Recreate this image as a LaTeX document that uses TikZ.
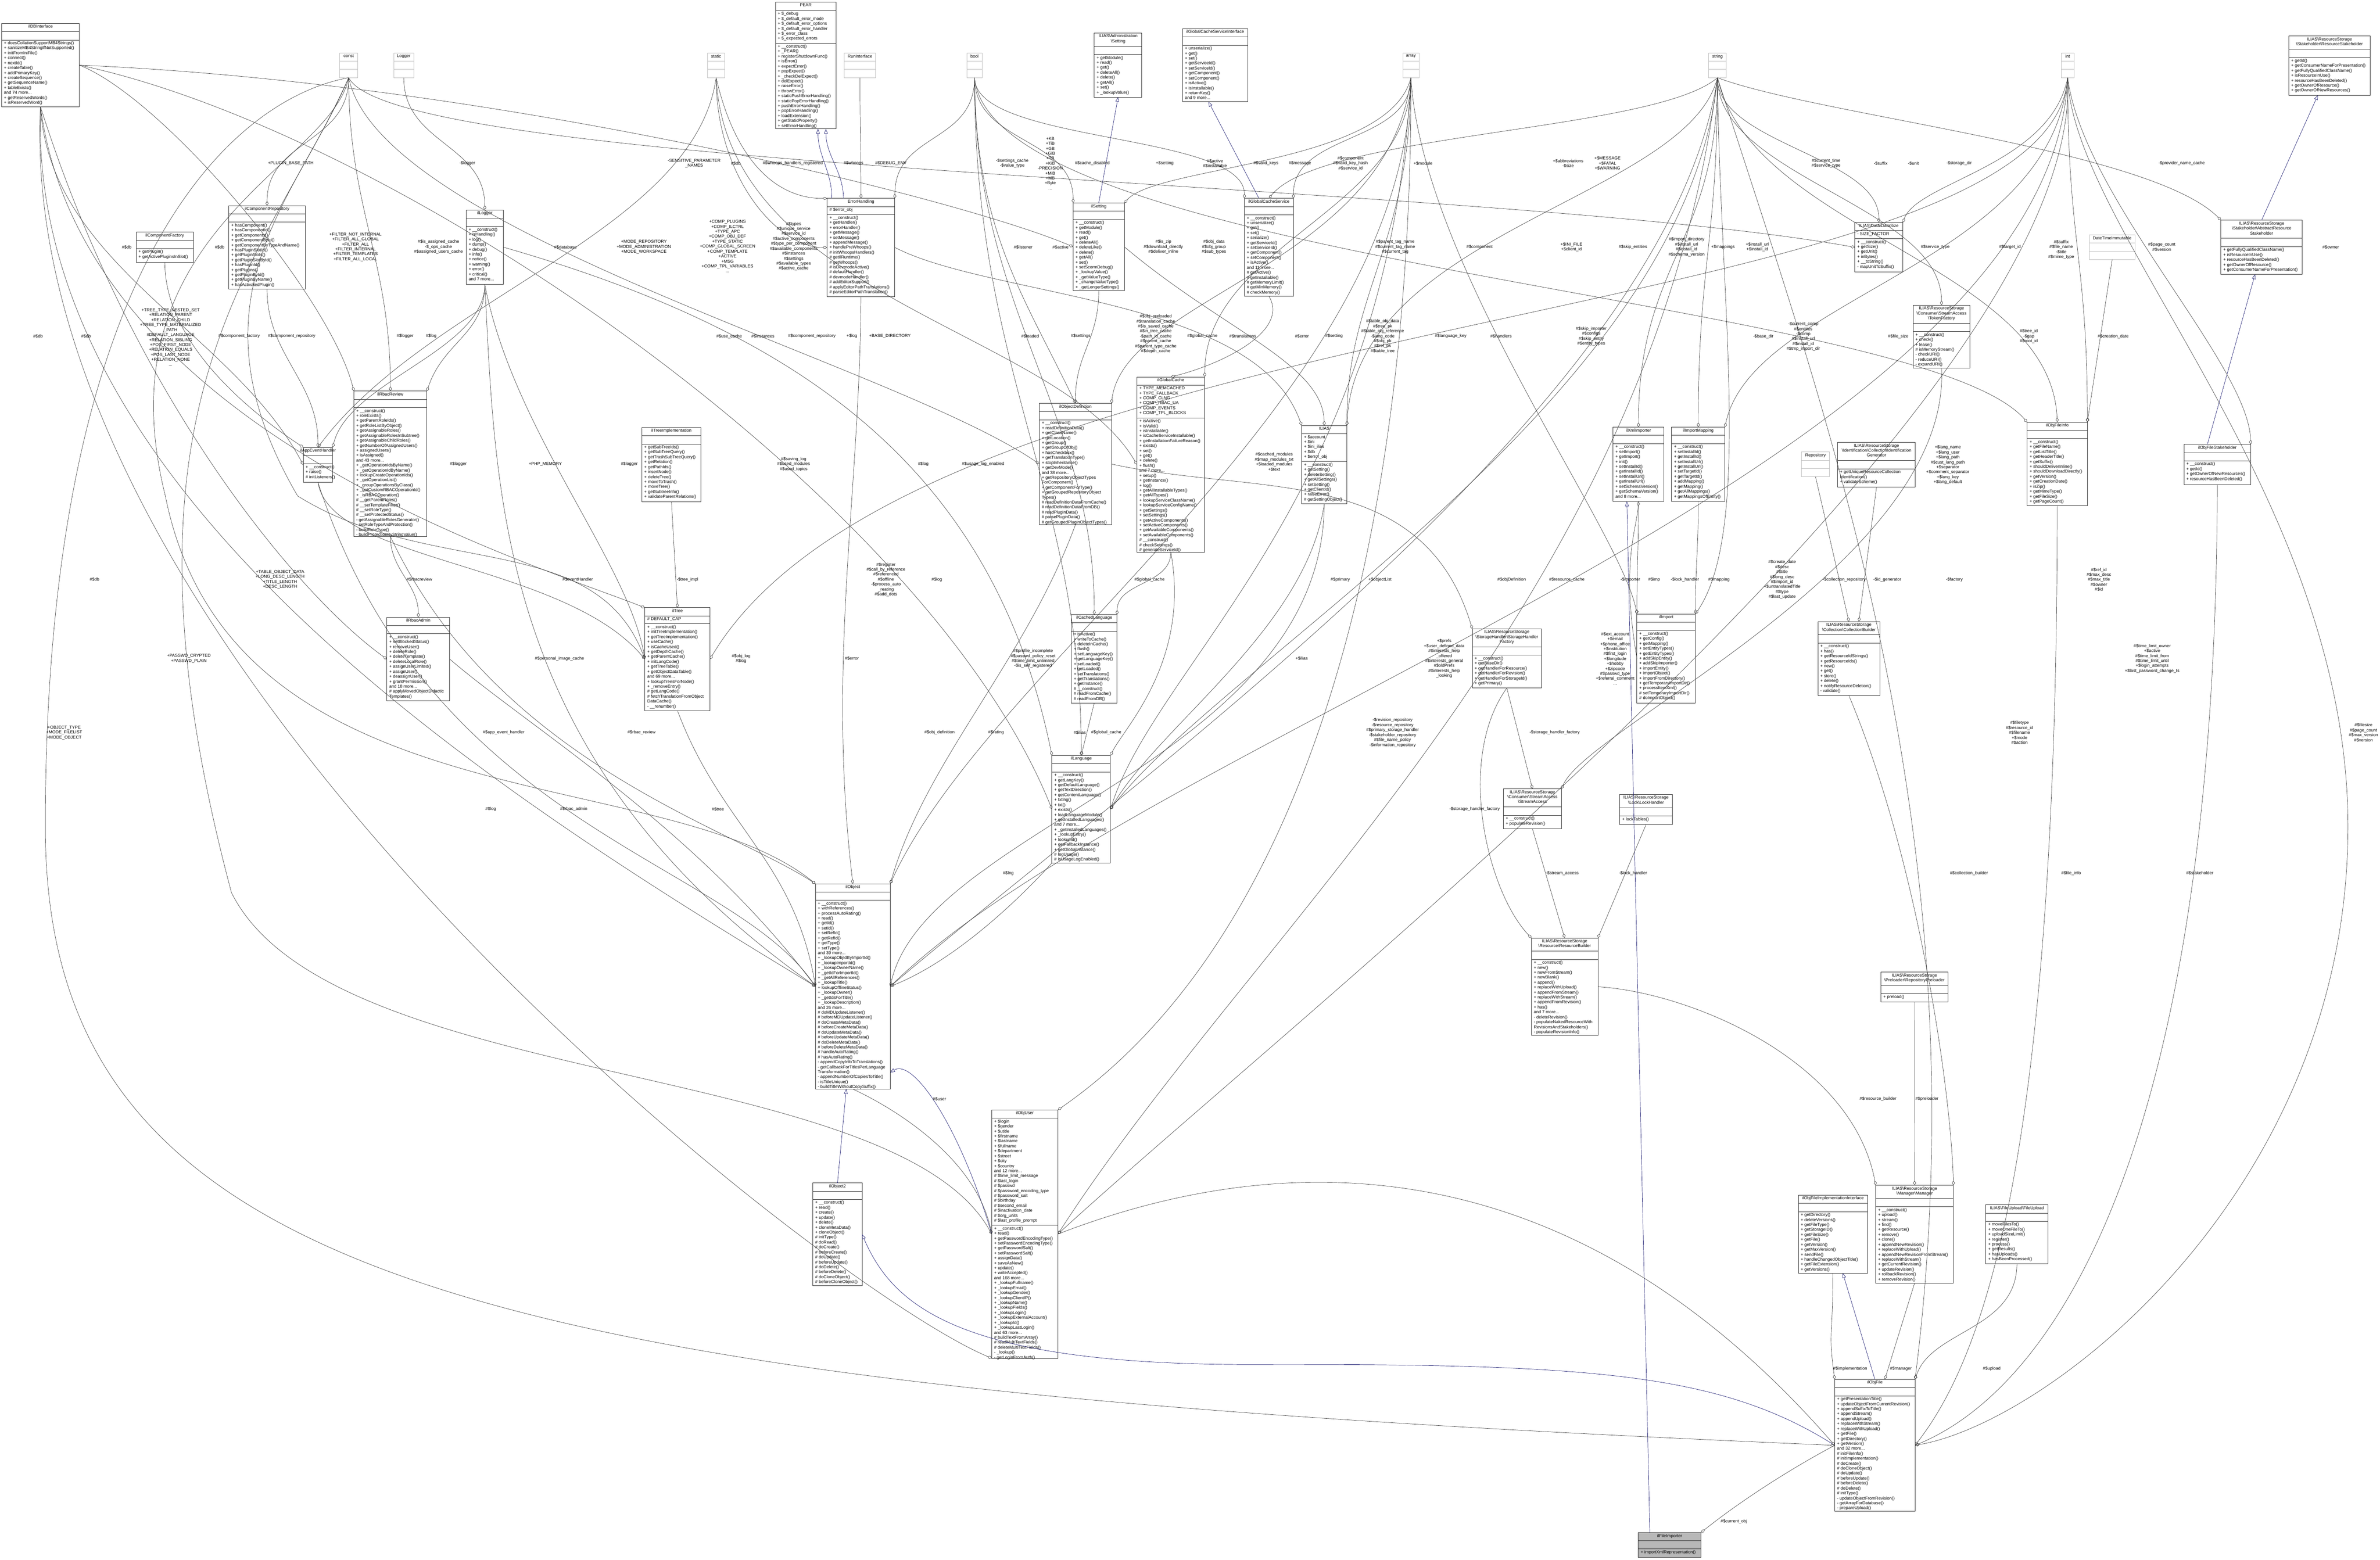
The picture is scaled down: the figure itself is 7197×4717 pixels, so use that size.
\documentclass[tikz,border=0pt]{standalone}
\usepackage{fontspec}
\setmainfont{Liberation Sans}
\usetikzlibrary{arrows.meta}
\definecolor{navy}{HTML}{191970}
\definecolor{edgegray}{HTML}{404040}
\definecolor{primgray}{HTML}{BFBFBF}
\newcommand\bksl{\textbackslash}
\tikzset{
  box/.style={draw=black!80, line width=1.4pt, fill=white, inner sep=0pt, outer sep=0pt},
  pbox/.style={draw=primgray, line width=1.4pt, fill=white, inner sep=0pt, outer sep=0pt},
  fbox/.style={draw=black!80, line width=1.4pt, fill=black!28, inner sep=0pt, outer sep=0pt},
  boxline/.style={draw=black!80, line width=1.4pt},
  pline/.style={draw=primgray, line width=1.4pt},
  mem/.style={font=\fontsize{13}{15}\selectfont, align=left, inner sep=0pt},
  ttl/.style={font=\fontsize{13}{15}\selectfont, align=center, inner sep=0pt},
  lbl/.style={font=\fontsize{13}{15}\selectfont, align=center, inner sep=0pt},
  agg/.style={draw=edgegray, line width=1pt, -{Diamond[open,length=14pt,width=9pt]}},
  inh/.style={draw=navy, line width=1pt, -{Triangle[open,length=14pt,width=11pt]}},
}
% id, l, t, r, b, title lines, attr lines, title, methods
\newcommand\cls[9]{%
  \pgfmathsetmacro\clsyA{#3+10+15*#6}%
  \pgfmathsetmacro\clsyB{\clsyA+(#7==0 ? 25 : 9+15*#7)}%
  \node[box, minimum width={(#4-#2)*1pt}, minimum height={(#5-#3)*1pt}, anchor=north west] (#1) at (#2,#3) {};
  \draw[boxline] (#2,\clsyA) -- (#4,\clsyA);
  \draw[boxline] (#2,\clsyB) -- (#4,\clsyB);
  \node[ttl, anchor=north] at ({(#2+#4)/2},#3+4) {#8};
  \coordinate (#1-a) at (#2+7,\clsyA+4);
  \node[mem, anchor=north west] at (#2+7,\clsyB+4) {#9};
}
% id, l, t, r, name
\newcommand\prim[5]{%
  \node[pbox, minimum width={(#4-#2)*1pt}, minimum height=75pt, anchor=north west] (#1) at (#2,#3) {};
  \draw[pline] (#2,#3+25) -- (#4,#3+25);
  \draw[pline] (#2,#3+50) -- (#4,#3+50);
  \node[ttl, anchor=north] at ({(#2+#4)/2},#3+5) {#5};
}
\begin{document}
\begin{tikzpicture}[x=1pt,y=-1pt]
\useasboundingbox (0,0) rectangle (7197,4717);
\fill[white] (0,0) rectangle (7197,4717);

% ---------- primitive types ----------
\prim{tconst}{1027}{160}{1082}{const}
\prim{tlogger}{1191}{160}{1251}{Logger}
\prim{tstatic}{2139}{160}{2192}{static}
\prim{trun}{2553}{160}{2648}{RunInterface}
\prim{tbool}{2924}{160}{2970}{bool}
\prim{tarray}{4242}{160}{4291}{array}
\prim{tstring}{5167}{160}{5220}{string}
\prim{tint}{6233}{160}{6272}{int}
\prim{trepo}{5448}{1367}{5532}{Repository}
\prim{tdate}{6318}{710}{6456}{DateTimeImmutable}

% ---------- classes ----------
\cls{dbi}{5}{71}{240}{323}{1}{0}{ilDBInterface}{+ doesCollationSupportMB4Strings()\\+ sanitizeMB4StringIfNotSupported()\\+ initFromIniFile()\\+ connect()\\+ nextId()\\+ createTable()\\+ addPrimaryKey()\\+ createSequence()\\+ getSequenceName()\\+ tableExists()\\and 74 more...\\+ getReservedWords()\\+ isReservedWord()}

\cls{pear}{2345}{7}{2528}{390}{1}{6}{PEAR}{+ \_\_construct()\\+ \_PEAR()\\+ registerShutdownFunc()\\+ isError()\\+ expectError()\\+ popExpect()\\+ \_checkDelExpect()\\+ delExpect()\\+ raiseError()\\+ throwError()\\+ staticPushErrorHandling()\\+ staticPopErrorHandling()\\+ pushErrorHandling()\\+ popErrorHandling()\\+ loadExtension()\\+ getStaticProperty()\\+ setErrorHandling()}
\node[mem, anchor=north west] at (pear-a) {+ \$\_debug\\+ \$\_default\_error\_mode\\+ \$\_default\_error\_options\\+ \$\_default\_error\_handler\\+ \$\_error\_class\\+ \$\_expected\_errors};

\cls{comprepo}{692}{622}{923}{874}{1}{0}{ilComponentRepository}{+ hasComponent()\\+ hasComponentId()\\+ getComponents()\\+ getComponentById()\\+ getComponentByTypeAndName()\\+ hasPluginSlotId()\\+ getPluginSlots()\\+ getPluginSlotById()\\+ hasPluginId()\\+ getPlugins()\\+ getPluginById()\\+ getPluginByName()\\+ hasActivatedPlugin()}

\cls{compfac}{412}{702}{585}{794}{1}{0}{ilComponentFactory}{+ getPlugin()\\+ getActivePluginsInSlot()}

\cls{logger}{1410}{635}{1522}{860}{1}{0}{ilLogger}{+ \_\_construct()\\+ isHandling()\\+ log()\\+ dump()\\+ debug()\\+ info()\\+ notice()\\+ warning()\\+ error()\\+ critical()\\and 7 more...}

\cls{rbacrev}{1070}{1183}{1291}{1623}{1}{0}{ilRbacReview}{+ \_\_construct()\\+ roleExists()\\+ getParentRoleIds()\\+ getRoleListByObject()\\+ getAssignableRoles()\\+ getAssignableRolesInSubtree()\\+ getAssignableChildRoles()\\+ getNumberOfAssignedUsers()\\+ assignedUsers()\\+ isAssigned()\\and 43 more...\\+ \_getOperationIdsByName()\\+ \_getOperationIdByName()\\+ lookupCreateOperationIds()\\+ \_getOperationList()\\+ \_groupOperationsByClass()\\+ \_getCustomRBACOperationId()\\+ \_isRBACOperation()\\\# \_\_getParentRoles()\\\# \_\_setTemplateFilter()\\\# \_\_setRoleType()\\\# \_\_setProtectedStatus()\\- getAssignableRolesGenerator()\\- setRoleTypeAndProtection()\\- buildRoleType()\\- buildProtectionByStringValue()}

\cls{appev}{917}{1353}{1006}{1459}{1}{0}{ilAppEventHandler}{+ \_\_construct()\\+ raise()\\\# initListeners()}

\cls{treeimpl}{1941}{1293}{2120}{1518}{1}{0}{ilTreeImplementation}{+ getSubTreeIds()\\+ getSubTreeQuery()\\+ getTrashSubTreeQuery()\\+ getRelation()\\+ getPathIds()\\+ insertNode()\\+ deleteTree()\\+ moveToTrash()\\+ moveTree()\\+ getSubtreeInfo()\\+ validateParentRelations()}

\cls{rbacadm}{1170}{1867}{1360}{2120}{1}{0}{ilRbacAdmin}{+ \_\_construct()\\+ setBlockedStatus()\\+ removeUser()\\+ deleteRole()\\+ deleteTemplate()\\+ deleteLocalRole()\\+ assignUserLimited()\\+ assignUser()\\+ deassignUser()\\+ grantPermission()\\and 18 more...\\\# applyMovedObjectDidactic\\Templates()}

\cls{tree}{1950}{1838}{2147}{2149}{1}{1}{ilTree}{+ \_\_construct()\\+ initTreeImplementation()\\+ getTreeImplementation()\\+ useCache()\\+ isCacheUsed()\\+ getDepthCache()\\+ getParentCache()\\+ initLangCode()\\+ getTreeTable()\\+ getObjectDataTable()\\and 69 more...\\+ lookupTreesForNode()\\+ \_removeEntry()\\\# getLangCode()\\\# fetchTranslationFromObject\\DataCache()\\- \_\_renumber()}
\node[mem, anchor=north west] at (tree-a) {\# DEFAULT\_CAP};

\cls{errh}{2501}{600}{2706}{897}{1}{1}{ErrorHandling}{+ \_\_construct()\\+ getHandler()\\+ errorHandler()\\+ getMessage()\\+ setMessage()\\+ appendMessage()\\+ handlePreWhoops()\\\# initWhoopsHandlers()\\\# getIlRuntime()\\\# getWhoops()\\\# isDevmodeActive()\\\# defaultHandler()\\\# devmodeHandler()\\\# addEditorSupport()\\\# applyEditorPathTranslations()\\\# parseEditorPathTranslation()}
\node[mem, anchor=north west] at (errh-a) {\# \$error\_obj};

\cls{admset}{3309}{100}{3453}{294}{2}{0}{ILIAS\bksl Administration\\\bksl Setting}{+ getModule()\\+ read()\\+ get()\\+ deleteAll()\\+ delete()\\+ getAll()\\+ set()\\+ \_lookupValue()}

\cls{gcsi}{3576}{87}{3773}{308}{1}{0}{ilGlobalCacheServiceInterface}{+ unserialize()\\+ get()\\+ set()\\+ getServiceId()\\+ setServiceId()\\+ getComponent()\\+ setComponent()\\+ isActive()\\+ isInstallable()\\+ returnKey()\\and 9 more...}

\cls{setting}{3245}{614}{3400}{879}{1}{0}{ilSetting}{+ \_\_construct()\\+ getModule()\\+ read()\\+ get()\\+ deleteAll()\\+ deleteLike()\\+ delete()\\+ getAll()\\+ set()\\+ setScormDebug()\\+ \_lookupValue()\\+ \_getValueType()\\+ \_changeValueType()\\+ \_getLongerSettings()}

\cls{gcs}{3763}{600}{3911}{896}{1}{0}{ilGlobalCacheService}{+ \_\_construct()\\+ unserialize()\\+ get()\\+ set()\\+ serialize()\\+ getServiceId()\\+ setServiceId()\\+ getComponent()\\+ setComponent()\\+ isActive()\\and 11 more...\\\# getActive()\\\# getInstallable()\\\# getMemoryLimit()\\\# getMinMemory()\\\# checkMemory()}

\cls{objdef}{3143}{1220}{3361}{1587}{1}{0}{ilObjectDefinition}{+ \_\_construct()\\+ readDefinitionData()\\+ getClassName()\\+ getLocation()\\+ getGroup()\\+ getGroupOfObj()\\+ hasCheckbox()\\+ getTranslationType()\\+ stopInheritance()\\+ getDevMode()\\and 38 more...\\+ getRepositoryObjectTypes\\ForComponent()\\+ getComponentForType()\\+ getGroupedRepositoryObject\\Types()\\\# readDefinitionDataFromCache()\\\# readDefinitionDataFromDB()\\\# readPluginData()\\\# parsePluginData()\\\# getGroupedPluginObjectTypes()}

\cls{gcache}{3438}{1140}{3643}{1670}{1}{6}{ilGlobalCache}{+ isActive()\\+ isValid()\\+ isInstallable()\\+ isCacheServiceInstallable()\\+ getInstallationFailureReason()\\+ exists()\\+ set()\\+ get()\\+ delete()\\+ flush()\\and 7 more...\\+ setup()\\+ getInstance()\\+ log()\\+ getAllInstallableTypes()\\+ getAllTypes()\\+ lookupServiceClassName()\\+ lookupServiceConfigName()\\+ getSettings()\\+ setSettings()\\+ getActiveComponents()\\+ setActiveComponents()\\+ getAvailableComponents()\\+ setAvailableComponents()\\\# \_\_construct()\\\# checkSettings()\\\# generateServiceId()}
\node[mem, anchor=north west] at (gcache-a) {+ TYPE\_MEMCACHED\\+ TYPE\_FALLBACK\\+ COMP\_CLNG\\+ COMP\_RBAC\_UA\\+ COMP\_EVENTS\\+ COMP\_TPL\_BLOCKS};

\cls{ilias}{3936}{1287}{4073}{1524}{1}{5}{ILIAS}{+ \_\_construct()\\+ getSetting()\\+ deleteSetting()\\+ getAllSettings()\\+ setSetting()\\+ getClientId()\\+ raiseError()\\\# getSettingObject()}
\node[mem, anchor=north west] at (ilias-a) {+ \$account\\+ \$ini\\+ \$ini\_ilias\\+ \$db\\+ \$error\_obj};

\cls{rsh}{6921}{109}{7167}{288}{2}{0}{ILIAS\bksl ResourceStorage\\\bksl Stakeholder\bksl ResourceStakeholder}{+ getId()\\+ getConsumerNameForPresentation()\\+ getFullyQualifiedClassName()\\+ isResourceInUse()\\+ resourceHasBeenDeleted()\\+ getOwnerOfResource()\\+ getOwnerOfNewResources()}

\cls{datasize}{5609}{673}{5754}{823}{1}{1}{ILIAS\bksl Data\bksl DataSize}{+ \_\_construct()\\+ getSize()\\+ getUnit()\\+ inBytes()\\+ \_\_toString()\\- mapUnitToSuffix()}
\node[mem, anchor=north west] at (datasize-a) {- SIZE\_FACTOR};

\cls{arsh}{6716}{666}{6962}{830}{3}{0}{ILIAS\bksl ResourceStorage\\\bksl Stakeholder\bksl AbstractResource\\Stakeholder}{+ getFullyQualifiedClassName()\\+ isResourceInUse()\\+ resourceHasBeenDeleted()\\+ getOwnerOfResource()\\+ getConsumerNameForPresentation()}

\cls{tokenf}{5785}{923}{5957}{1114}{3}{0}{ILIAS\bksl ResourceStorage\\\bksl Consumer\bksl StreamAccess\\\bksl TokenFactory}{+ \_\_construct()\\+ check()\\+ lease()\\\# isMemoryStream()\\- checkURI()\\- reduceURI()\\- expandURI()}

\cls{xmlimp}{4878}{1292}{5031}{1517}{1}{0}{ilXmlImporter}{+ \_\_construct()\\+ setImport()\\+ getImport()\\+ init()\\+ setInstallId()\\+ getInstallId()\\+ setInstallUrl()\\+ getInstallUrl()\\+ setSchemaVersion()\\+ getSchemaVersion()\\and 8 more...}

\cls{impmap}{5055}{1292}{5216}{1517}{1}{0}{ilImportMapping}{+ \_\_construct()\\+ setInstallId()\\+ getInstallId()\\+ setInstallUrl()\\+ getInstallUrl()\\+ setTargetId()\\+ getTargetId()\\+ addMapping()\\+ getMapping()\\+ getAllMappings()\\+ getMappingsOfEntity()}

\cls{cig}{5557}{1338}{5792}{1473}{3}{0}{ILIAS\bksl ResourceStorage\\\bksl Identification\bksl CollectionIdentification\\Generator}{+ getUniqueResourceCollection\\Identification()\\+ validateScheme()}

\cls{fileinfo}{6130}{1277}{6312}{1530}{1}{0}{ilObjFileInfo}{+ \_\_construct()\\+ getFileName()\\+ getListTitle()\\+ getHeaderTitle()\\+ getSuffix()\\+ shouldDeliverInline()\\+ shouldDownloadDirectly()\\+ getVersion()\\+ getCreationDate()\\+ isZip()\\+ getMimeType()\\+ getFileSize()\\+ getPageCount()}

\cls{filesh}{6604}{1344}{6806}{1466}{1}{0}{ilObjFileStakeholder}{+ \_\_construct()\\+ getId()\\+ getOwnerOfNewResources()\\+ resourceHasBeenDeleted()}

\cls{import}{4950}{1857}{5127}{2126}{1}{0}{ilImport}{+ \_\_construct()\\+ getConfig()\\+ getMapping()\\+ setEntityTypes()\\+ getEntityTypes()\\+ addSkipEntity()\\+ addSkipImporter()\\+ importEntity()\\+ importObject()\\+ importFromDirectory()\\+ getTemporaryImportDir()\\+ processItemXml()\\\# setTemporaryImportDir()\\\# doImportObject()}

\cls{collb}{5497}{1880}{5685}{2104}{2}{0}{ILIAS\bksl ResourceStorage\\\bksl Collection\bksl CollectionBuilder}{+ \_\_construct()\\+ has()\\+ getResourceIdStrings()\\+ getResourceIds()\\+ new()\\+ get()\\+ store()\\+ delete()\\+ notifyResourceDeletion()\\- validate()}

\cls{lockh}{4898}{2403}{5057}{2494}{2}{0}{ILIAS\bksl ResourceStorage\\\bksl Lock\bksl LockHandler}{+ lockTables()}

\cls{resb}{4631}{2837}{4832}{3132}{2}{0}{ILIAS\bksl ResourceStorage\\\bksl Resource\bksl ResourceBuilder}{+ \_\_construct()\\+ new()\\+ newFromStream()\\+ newBlank()\\+ append()\\+ replaceWithUpload()\\+ appendFromStream()\\+ replaceWithStream()\\+ appendFromRevision()\\+ has()\\and 7 more...\\- deleteRevision()\\- populateNakedResourceWith\\RevisionsAndStakeholders()\\- populateRevisionInfo()}

\cls{preload}{5688}{2940}{5890}{3030}{2}{0}{ILIAS\bksl ResourceStorage\\\bksl Preloader\bksl RepositoryPreloader}{+ preload()}

\cls{fimpl}{5438}{3615}{5647}{3851}{1}{0}{ilObjFileImplementationInterface}{+ getDirectory()\\+ deleteVersions()\\+ getFileType()\\+ getStorageID()\\+ getFileSize()\\+ getFile()\\+ getVersion()\\+ getMaxVersion()\\+ sendFile()\\+ handleChangedObjectTitle()\\+ getFileExtension()\\+ getVersions()}

\cls{manager}{5672}{3585}{5907}{3881}{2}{0}{ILIAS\bksl ResourceStorage\\\bksl Manager\bksl Manager}{+ \_\_construct()\\+ upload()\\+ stream()\\+ find()\\+ getResource()\\+ remove()\\+ clone()\\+ appendNewRevision()\\+ replaceWithUpload()\\+ appendNewRevisionFromStream()\\+ replaceWithStream()\\+ getCurrentRevision()\\+ updateRevision()\\+ rollbackRevision()\\+ removeRevision()}

\cls{upload}{6005}{3644}{6193}{3822}{1}{0}{ILIAS\bksl FileUpload\bksl FileUpload}{+ moveFilesTo()\\+ moveOneFileTo()\\+ uploadSizeLimit()\\+ register()\\+ process()\\+ getResults()\\+ hasUploads()\\+ hasBeenProcessed()}

\cls{objfile}{5548}{4172}{5791}{4571}{1}{0}{ilObjFile}{+ getPresentationTitle()\\+ updateObjectFromCurrentRevision()\\+ appendSuffixToTitle()\\+ appendStream()\\+ appendUpload()\\+ replaceWithStream()\\+ replaceWithUpload()\\+ getFile()\\+ getDirectory()\\+ getVersion()\\and 32 more...\\\# initFileInfo()\\\# initImplementation()\\\# doCreate()\\\# doCloneObject()\\\# doUpdate()\\\# beforeUpdate()\\\# beforeDelete()\\\# doDelete()\\\# initType()\\- updateObjectFromRevision()\\- getArrayForDatabase()\\- prepareUpload()}

% focus class (grey fill)
\node[fbox, minimum width=190pt, minimum height=75pt, anchor=north west] (fileimp) at (4954,4635) {};
\draw[boxline] (4954,4660) -- (5144,4660);
\draw[boxline] (4954,4685) -- (5144,4685);
\node[ttl, anchor=north] at (5049,4640) {ilFileImporter};
\node[mem, anchor=north west] at (4961,4689) {+ importXmlRepresentation()};

\cls{clang}{3240}{1859}{3378}{2126}{1}{0}{ilCachedLanguage}{+ isActive()\\+ writeToCache()\\+ deleteInCache()\\+ flush()\\+ setLanguageKey()\\+ getLanguageKey()\\+ setLoaded()\\+ getLoaded()\\+ setTranslations()\\+ getTranslations()\\+ getInstance()\\\# \_\_construct()\\\# readFromCache()\\\# readFromDB()}

\cls{lang}{3181}{2285}{3358}{2610}{1}{0}{ilLanguage}{+ \_\_construct()\\+ getLangKey()\\+ getDefaultLanguage()\\+ getTextDirection()\\+ getContentLanguage()\\+ txtlng()\\+ txt()\\+ exists()\\+ loadLanguageModule()\\+ getInstalledLanguages()\\and 7 more...\\+ \_getInstalledLanguages()\\+ \_lookupEntry()\\+ lookupId()\\+ getFallbackInstance()\\+ getGlobalInstance()\\\# logUsage()\\\# isUsageLogEnabled()}

\cls{shf}{4452}{1902}{4661}{2081}{3}{0}{ILIAS\bksl ResourceStorage\\\bksl StorageHandler\bksl StorageHandler\\Factory}{+ \_\_construct()\\+ getBaseDir()\\+ getHandlerForResource()\\+ getHandlerForRevision()\\+ getHandlerForStorageId()\\+ getPrimary()}

\cls{sacc}{4546}{2386}{4722}{2507}{3}{0}{ILIAS\bksl ResourceStorage\\\bksl Consumer\bksl StreamAccess\\\bksl StreamAccess}{+ \_\_construct()\\+ populateRevision()}

\cls{object}{2466}{2673}{2692}{3294}{1}{0}{ilObject}{+ \_\_construct()\\+ withReferences()\\+ processAutoRating()\\+ read()\\+ getId()\\+ setId()\\+ setRefId()\\+ getRefId()\\+ getType()\\+ setType()\\and 39 more...\\+ \_lookupObjIdByImportId()\\+ \_lookupImportId()\\+ \_lookupOwnerName()\\+ \_getIdForImportId()\\+ \_getAllReferences()\\+ \_lookupTitle()\\+ lookupOfflineStatus()\\+ \_lookupOwner()\\+ \_getIdsForTitle()\\+ \_lookupDescription()\\and 26 more...\\\# doMDUpdateListener()\\\# beforeMDUpdateListener()\\\# doCreateMetaData()\\\# beforeCreateMetaData()\\\# doUpdateMetaData()\\\# beforeUpdateMetaData()\\\# doDeleteMetaData()\\\# beforeDeleteMetaData()\\\# handleAutoRating()\\\# hasAutoRating()\\- appendCopyInfoToTranslations()\\- getCallbackForTitlesPerLanguage\\Transformation()\\- appendNumberOfCopiesToTitle()\\- isTitleUnique()\\- buildTitleWithoutCopySuffix()}

\cls{object2}{2458}{3578}{2607}{3889}{1}{0}{ilObject2}{+ \_\_construct()\\+ read()\\+ create()\\+ update()\\+ delete()\\+ cloneMetaData()\\+ cloneObject()\\\# initType()\\\# doRead()\\\# doCreate()\\\# beforeCreate()\\\# doUpdate()\\\# beforeUpdate()\\\# doDelete()\\\# beforeDelete()\\\# doCloneObject()\\\# beforeCloneObject()}

\cls{user}{2999}{3357}{3199}{4108}{1}{21}{ilObjUser}{+ \_\_construct()\\+ read()\\+ getPasswordEncodingType()\\+ setPasswordEncodingType()\\+ getPasswordSalt()\\+ setPasswordSalt()\\+ assignData()\\+ saveAsNew()\\+ update()\\+ writeAccepted()\\and 168 more...\\+ \_lookupFullname()\\+ \_lookupEmail()\\+ \_lookupGender()\\+ \_lookupClientIP()\\+ \_lookupName()\\+ \_lookupFields()\\+ \_lookupLogin()\\+ \_lookupExternalAccount()\\+ \_lookupId()\\+ \_lookupLastLogin()\\and 63 more...\\\# buildTextFromArray()\\\# readMultiTextFields()\\\# deleteMultiTextFields()\\- \_lookup()\\- getLoginFromAuth()}
\node[mem, anchor=north west] at (user-a) {+ \$login\\+ \$gender\\+ \$utitle\\+ \$firstname\\+ \$lastname\\+ \$fullname\\+ \$department\\+ \$street\\+ \$city\\+ \$country\\and 12 more...\\\# \$time\_limit\_message\\\# \$last\_login\\\# \$passwd\\\# \$password\_encoding\_type\\\# \$password\_salt\\\# \$birthday\\\# \$second\_email\\\# \$inactivation\_date\\\# \$org\_units\\\# \$last\_profile\_prompt};

% ---------- inheritance ----------
\draw[inh] ([xshift=-88]errh.north) .. controls +(0,-80) and +(0,80) .. ([xshift=37]pear.south);
\draw[inh] ([xshift=-53]errh.north) .. controls +(0,-80) and +(0,80) .. ([xshift=61]pear.south);
\draw[inh] (setting.north) -- (admset.south);
\draw[inh] ([xshift=-30]gcs.north) -- ([xshift=-20]gcsi.south);
\draw[inh] (arsh.north) -- ([xshift=-35]rsh.south);
\draw[inh] ([xshift=-30]filesh.north) -- ([xshift=-20]arsh.south);
\draw[inh] (object2.north) -- ([xshift=-20]object.south);
\draw[inh] (user.west) .. controls (2900,3400) and (2760,3200) .. ([yshift=50]object.south east);
\draw[inh] (objfile.west) .. controls (5200,4150) and (4800,4125) .. (3800,4127) .. controls (2900,4130) and (2700,3950) .. (object2.east);
\draw[inh] (objfile.north) -- ([xshift=30]fimpl.south);
\draw[inh] ([xshift=-60]fileimp.north) -- ([xshift=-35]xmlimp.south);

% ---------- aggregation / usage ----------
\draw[agg] (tconst.south) .. controls +(0,200) and +(0,-200) .. (comprepo.north);
\draw[agg] (tlogger.south) .. controls +(0,200) and +(0,-200) .. (logger.north);
\draw[agg] (tconst.south) .. controls +(0,400) and +(0,-400) .. (rbacrev.north);
\draw[agg] (tconst.south) .. controls (1000,500) and (300,700) .. (500,1500) .. controls (700,2500) and (2000,2300) .. (object.north west);
\draw[agg] (tconst.south) .. controls (900,600) and (550,900) .. (900,1500) .. controls (1300,1750) and (1800,1600) .. (tree.west);
\draw[agg] (tconst.south) .. controls (800,800) and (300,1200) .. (700,2700) .. controls (1000,3300) and (2700,3200) .. (user.west);
\draw[agg] (tconst.south) .. controls (700,300) and (137,800) .. (137,2500) .. controls (137,3900) and (1500,4200) .. (objfile.west);
\draw[agg] (tconst.south) .. controls (1200,520) and (4500,550) .. (datasize.west);
\draw[agg] (tconst.south) .. controls (1150,700) and (2700,1100) .. (objdef.west);
\draw[agg] (tstatic.south) .. controls +(0,300) and +(-150,0) .. (errh.west);
\draw[agg] (tstatic.south) .. controls (2200,900) and (3200,1000) .. (gcache.west);
\draw[agg] (tstatic.south) .. controls (2250,600) and (2450,600) .. (errh.north west);
\draw[agg] (tstatic.south) .. controls (2100,700) and (1300,900) .. (appev.north);
\draw[agg] (dbi.east) .. controls (500,300) and (1000,900) .. (rbacrev.north west);
\draw[agg] (dbi.south) .. controls (150,800) and (700,1000) .. (appev.west);
\draw[agg] (dbi.south) .. controls (80,1500) and (1500,2400) .. (object.west);
\draw[agg] (dbi.south) .. controls (250,1300) and (1600,1700) .. (tree.north west);
\draw[agg] (dbi.south) .. controls (400,1200) and (900,1800) .. (rbacadm.west);
\draw[agg] (dbi.east) .. controls (1500,250) and (2900,600) .. (setting.west);
\draw[agg] (dbi.east) .. controls (1200,400) and (2800,1500) .. (lang.west);
\draw[agg] (dbi.south) .. controls (40,2000) and (2500,3900) .. (user.south west);
\draw[agg] (compfac.south) .. controls +(0,250) and +(-150,-100) .. (appev.north west);
\draw[agg] (comprepo.south) .. controls +(0,200) and +(0,-200) .. (appev.north);
\draw[agg] (logger.south) .. controls +(0,200) and +(50,-200) .. (appev.north east);
\draw[agg] (logger.south) .. controls +(0,150) and +(50,-150) .. (rbacrev.north east);
\draw[agg] (logger.south) .. controls (1500,1500) and (1500,2300) .. (object.west);
\draw[agg] (logger.south) .. controls (1550,1300) and (1900,1700) .. (tree.west);
\draw[agg] (logger.east) .. controls (2400,1000) and (3000,1400) .. (lang.north west);
\draw[agg] (rbacrev.south) .. controls +(0,100) and +(0,-100) .. (rbacadm.north);
\draw[agg] (rbacrev.south) .. controls (1500,2300) and (2200,2500) .. (object.north west);
\draw[agg] (rbacadm.east) .. controls (1600,2200) and (2100,2500) .. (object.west);
\draw[agg] (appev.south) .. controls (1000,1700) and (1700,1700) .. (tree.west);
\draw[agg] (appev.south) .. controls (1300,2500) and (2200,2600) .. (object.west);
\draw[agg] (treeimpl.south) -- (tree.north);
\draw[agg] (tree.south) .. controls (2180,2500) and (2400,2600) .. (object.west);
\draw[agg] (trun.south) .. controls +(0,150) and +(0,-150) .. (errh.north);
\draw[agg] (tbool.south) .. controls +(0,200) and +(0,-200) .. (errh.north east);
\draw[agg] (tbool.south) .. controls +(0,200) and +(0,-200) .. (setting.north west);
\draw[agg] (tbool.south) .. controls +(0,200) and +(0,-200) .. (gcs.north west);
\draw[agg] (tbool.south) .. controls (3000,800) and (5800,900) .. (fileinfo.north west);
\draw[agg] (tbool.south) .. controls +(0,700) and +(0,-600) .. (clang.north);
\draw[agg] (tbool.south) .. controls +(0,900) and +(0,-800) .. (lang.north);
\draw[agg] (tbool.south) .. controls (2950,700) and (3100,900) .. (objdef.north);
\draw[agg] (tarray.south) .. controls (4200,500) and (3500,500) .. (setting.north east);
\draw[agg] (tarray.south) .. controls +(0,200) and +(0,-200) .. (gcs.north east);
\draw[agg] (tarray.south) .. controls (4200,800) and (3400,900) .. (objdef.north east);
\draw[agg] (tarray.south) .. controls (4250,1200) and (3000,2000) .. (object.north east);
\draw[agg] (tarray.south) .. controls (4300,800) and (4900,1600) .. (import.north west);
\draw[agg] (tarray.south) .. controls (4270,1500) and (4000,2800) .. (user.north east);
\draw[agg] (tarray.south) .. controls +(0,400) and +(0,-400) .. (gcache.north east);
\draw[agg] (tarray.south) .. controls (4200,1500) and (3500,2000) .. (lang.east);
\draw[agg] (tarray.south) .. controls +(0,500) and +(0,-400) .. (ilias.north east);
\draw[agg] (tstring.south) .. controls +(0,200) and +(0,-200) .. (datasize.north);
\draw[agg] (tstring.south) .. controls (5000,400) and (4000,400) .. (gcs.north);
\draw[agg] (tstring.south) .. controls +(0,500) and +(0,-500) .. (impmap.north);
\draw[agg] (tstring.south) .. controls +(0,500) and +(0,-500) .. (xmlimp.north);
\draw[agg] (tstring.south) .. controls (5200,900) and (5300,1600) .. (import.north east);
\draw[agg] (tstring.south) .. controls (5300,700) and (6200,800) .. (fileinfo.north);
\draw[agg] (tstring.south) .. controls (5050,1200) and (3500,2300) .. (object.east);
\draw[agg] (tstring.south) .. controls (5000,1800) and (3800,2800) .. (user.east);
\draw[agg] (tstring.south) .. controls (5100,1200) and (3700,2000) .. (lang.east);
\draw[agg] (tstring.south) .. controls (5500,1200) and (6000,2500) .. (objfile.north east);
\draw[agg] (tstring.south) .. controls (5100,600) and (4100,700) .. (ilias.north east);
\draw[agg] (tstring.south) .. controls +(0,300) and +(0,-300) .. (tokenf.north);
\draw[agg] (tstring.south) .. controls (5500,350) and (6500,450) .. (arsh.north west);
\draw[agg] (tint.south) .. controls (6200,500) and (5800,550) .. (datasize.north east);
\draw[agg] (tint.south) .. controls +(0,500) and +(0,-500) .. (fileinfo.north east);
\draw[agg] (tint.south) .. controls (6300,600) and (6800,1100) .. (filesh.north east);
\draw[agg] (tint.south) .. controls (6300,1200) and (4000,3000) .. (user.east);
\draw[agg] (tint.south) .. controls (6200,1400) and (3500,2200) .. (object.east);
\draw[agg] (tint.south) .. controls (6270,700) and (7100,1500) .. (7100,2500) .. controls (7100,3600) and (6200,4300) .. (objfile.east);
\draw[agg] (tint.south) .. controls (6200,1000) and (2800,900) .. (tree.east);
\draw[agg] (tint.south) .. controls (6200,800) and (5300,900) .. (impmap.north east);
\draw[agg] (tdate.south) -- (fileinfo.north east);
\draw[agg] (setting.south) .. controls +(0,150) and +(0,-150) .. (objdef.north);
\draw[agg] (setting.east) .. controls (3700,1000) and (4000,1100) .. (ilias.north);
\draw[agg] (gcs.south) .. controls (3900,1000) and (3700,1100) .. (gcache.north);
\draw[agg] (gcache.south) .. controls +(0,100) and +(0,-100) .. (clang.north east);
\draw[agg] (gcache.south) .. controls (3600,2000) and (3400,2200) .. (lang.north east);
\draw[agg] (clang.south) -- (lang.north);
\draw[agg] (ilias.south) .. controls (3950,1900) and (3500,2200) .. (lang.east);
\draw[agg] (ilias.south) .. controls (4000,2300) and (2800,2500) .. (object.east);
\draw[agg] (errh.south) .. controls (2600,1500) and (2500,2000) .. (object.north);
\draw[agg] (errh.east) .. controls (3000,900) and (3800,900) .. (ilias.north west);
\draw[agg] (objdef.south) .. controls (3100,2000) and (2800,2300) .. (object.north east);
\draw[agg] (objdef.east) .. controls (3800,1500) and (4300,1400) .. (shf.north west);
\draw[agg] (lang.south west) .. controls (3100,2700) and (2900,2900) .. (object.east);
\draw[agg] (xmlimp.south) .. controls +(0,150) and +(0,-150) .. (import.north west);
\draw[agg] (impmap.south) .. controls +(0,150) and +(0,-150) .. (import.north east);
\draw[agg] (import.west) .. controls (4900,1700) and (4950,1600) .. (xmlimp.south);
\draw[agg] (trepo.south) -- (collb.north);
\draw[agg] (cig.south) -- ([xshift=30]collb.north);
\draw[agg] (tokenf.south) .. controls (5900,1700) and (4800,2200) .. (sacc.north east);
\draw[agg] (shf.south) -- (sacc.north);
\draw[agg] (shf.south) .. controls (4400,2300) and (4500,2700) .. (resb.north west);
\draw[agg] (sacc.south) -- (resb.north);
\draw[agg] (lockh.south) -- (resb.north east);
\draw[agg] (resb.east) .. controls (5100,3000) and (5600,3200) .. (manager.north west);
\draw[agg] (collb.south) .. controls (5800,2600) and (5900,3300) .. (manager.north east);
\draw[agg] (preload.south) -- (manager.north);
\draw[agg] (manager.south) -- ([xshift=30]objfile.north);
\draw[agg] (upload.south) .. controls +(0,200) and +(50,-150) .. (objfile.north east);
\draw[agg] (fimpl.south) .. controls +(0,200) and +(-20,-150) .. (objfile.north west);
\draw[agg] (fileinfo.south) .. controls (6220,3500) and (6000,4100) .. (objfile.east);
\draw[agg] (filesh.south) .. controls (6700,3500) and (6200,4200) .. (objfile.east);
\draw[agg] (objfile.west) .. controls (5400,4450) and (5250,4550) .. (fileimp.north east);
\draw[agg] (user.east) .. controls (3800,3500) and (4700,3400) .. (objfile.west);
\draw[agg] (object.south) .. controls (2700,3350) and (2950,3500) .. (user.west);

% ---------- labels ----------
\node[lbl] (l1) at (879,494) {+PLUGIN\_BASE\_PATH};
\node[lbl] (l2) at (1413,494) {-\$logger};
\node[lbl] (l3) at (2099,494) {-SENSITIVE\_PARAMETER\\\_NAMES};
\node[lbl] (l4) at (2225,494) {\#\$db};
\node[lbl] (l5) at (2397,494) {\#\$whoops\_handlers\_registered};
\node[lbl] (l6) at (2581,494) {\#\$whoops};
\node[lbl] (l7) at (2694,494) {\#\$DEBUG\_ENV};
\node[lbl] (l8) at (3061,494) {-\$settings\_cache\\-\$value\_type};
\node[lbl] (l9) at (3176,494) {+KB\\+TiB\\+GB\\+GiB\\+TB\\+KiB\\-PRECISION\\+MiB\\+MB\\+Byte\\...};
\node[lbl] (l10) at (3303,494) {\#\$cache\_disabled};
\node[lbl] (l11) at (3522,494) {+\$setting};
\node[lbl] (l12) at (3674,494) {\#\$active\\\#\$installable};
\node[lbl] (l13) at (3828,494) {\#\$valid\_keys};
\node[lbl] (l14) at (3931,494) {\#\$message};
\node[lbl] (l15) at (4084,494) {\#\$component\\\#\$valid\_key\_hash\\\#\$service\_id};
\node[lbl] (l16) at (4303,494) {+\$module};
\node[lbl] (l17) at (4742,494) {+\$abbreviations\\-\$size};
\node[lbl] (l18) at (4861,494) {+\$MESSAGE\\+\$FATAL\\+\$WARNING};
\node[lbl] (l19) at (5522,494) {\#\$current\_time\\\#\$service\_type};
\node[lbl] (l20) at (5687,494) {-\$suffix};
\node[lbl] (l21) at (5786,494) {-\$unit};
\node[lbl] (l22) at (5924,494) {-\$storage\_dir};
\node[lbl] (l23) at (6597,494) {-\$provider\_name\_cache};

\node[lbl] (l24) at (383,747) {\#\$db};
\node[lbl] (l25) at (664,747) {\#\$db};
\node[lbl] (l26) at (1075,747) {+FILTER\_NOT\_INTERNAL\\+FILTER\_ALL\_GLOBAL\\+FILTER\_ALL\\+FILTER\_INTERNAL\\+FILTER\_TEMPLATES\\+FILTER\_ALL\_LOCAL};
\node[lbl] (l27) at (1326,747) {\#\$is\_assigned\_cache\\-\$\_ops\_cache\\\#\$assigned\_users\_cache};
\node[lbl] (l28) at (1710,747) {\#\$database};
\node[lbl] (l29) at (1947,747) {+MODE\_REPOSITORY\\+MODE\_ADMINISTRATION\\+MODE\_WORKSPACE};
\node[lbl] (l30) at (2200,745) {+COMP\_PLUGINS\\+COMP\_ILCTRL\\+TYPE\_APC\\+COMP\_OBJ\_DEF\\+TYPE\_STATIC\\+COMP\_GLOBAL\_SCREEN\\+COMP\_TEMPLATE\\+ACTIVE\\+MSG\\+COMP\_TPL\_VARIABLES\\...};
\node[lbl] (l31) at (2400,745) {\#\$types\\\#\$unique\_service\\\#\$service\_id\\\#\$active\_components\\\#\$type\_per\_component\\\#\$available\_components\\\#\$instances\\\#\$settings\\\#\$available\_types\\\#\$active\_cache};
\node[lbl] (l32) at (3094,747) {\#\$listener};
\node[lbl] (l33) at (3207,747) {\#\$active};
\node[lbl] (l34) at (3518,747) {\#\$is\_zip\\\#\$download\_directly\\\#\$deliver\_inline};
\node[lbl] (l35) at (3671,747) {\#\$obj\_data\\\#\$obj\_group\\\#\$sub\_types};
\node[lbl] (l36) at (4219,747) {\#\$parent\_tag\_name\\\#\$current\_tag\_name\\\#\$current\_tag};
\node[lbl] (l37) at (4474,747) {\#\$component};
\node[lbl] (l38) at (4752,747) {+\$INI\_FILE\\+\$client\_id};
\node[lbl] (l39) at (4938,747) {\#\$skip\_entities};
\node[lbl] (l40) at (5100,747) {\#\$import\_directory\\\#\$install\_url\\\#\$install\_id\\\#\$schema\_version};
\node[lbl] (l41) at (5210,747) {+\$mappings};
\node[lbl] (l42) at (5314,747) {+\$install\_url\\+\$install\_id};
\node[lbl] (l43) at (5852,747) {\#\$service\_type};
\node[lbl] (l44) at (6078,747) {\#\$target\_id};
\node[lbl] (l45) at (6233,755) {\#\$suffix\\\#\$file\_name\\-\$title\\\#\$mime\_type};
\node[lbl] (l46) at (6537,747) {\#\$page\_count\\\#\$version};
\node[lbl] (l47) at (7048,747) {\#\$owner};

\node[lbl] (l48) at (115,1017) {\#\$db};
\node[lbl] (l49) at (260,1017) {\#\$db};
\node[lbl] (l50) at (516,1020) {+TREE\_TYPE\_NESTED\_SET\\+RELATION\_PARENT\\+RELATION\_CHILD\\+TREE\_TYPE\_MATERIALIZED\\\_PATH\\\#DEFAULT\_LANGUAGE\\+RELATION\_SIBLING\\+POS\_FIRST\_NODE\\+RELATION\_EQUALS\\+POS\_LAST\_NODE\\+RELATION\_NONE\\...};
\node[lbl] (l51) at (723,1017) {\#\$component\_factory};
\node[lbl] (l52) at (882,1017) {\#\$component\_repository};
\node[lbl] (l53) at (1225,1017) {\#\$logger};
\node[lbl] (l54) at (1304,1017) {\#\$log};
\node[lbl] (l55) at (2205,1017) {\#\$use\_cache};
\node[lbl] (l56) at (2307,1017) {\#\$instances};
\node[lbl] (l57) at (2455,1017) {\#\$component\_repository};
\node[lbl] (l58) at (2576,1017) {+\$log};
\node[lbl] (l59) at (2691,1017) {+BASE\_DIRECTORY};
\node[lbl] (l60) at (3115,1017) {\#\$loaded};
\node[lbl] (l61) at (3268,1017) {\#\$settings};
\node[lbl] (l62) at (3495,1010) {\#\$obj\_preloaded\\\#\$translation\_cache\\\#\$is\_saved\_cache\\\#\$in\_tree\_cache\\-\$path\_id\_cache\\\#\$parent\_cache\\\#\$parent\_type\_cache\\\#\$depth\_cache};
\node[lbl] (l63) at (3636,1017) {\#\$global\_cache};
\node[lbl] (l64) at (3758,1017) {\#\$translations};
\node[lbl] (l65) at (3937,1017) {\#\$error};
\node[lbl] (l66) at (4034,1017) {\#\$setting};
\node[lbl] (l67) at (4181,1017) {\#\$table\_obj\_data\\\#\$tree\_pk\\\#\$table\_obj\_reference\\-\$lang\_code\\\#\$obj\_pk\\\#\$ref\_pk\\\#\$table\_tree};
\node[lbl] (l68) at (4387,1017) {\#\$language\_key};
\node[lbl] (l69) at (4539,1017) {\#\$handlers};
\node[lbl] (l70) at (4812,1017) {\#\$skip\_importer\\\#\$configs\\\#\$skip\_entity\\\#\$entity\_types};
\node[lbl] (l71) at (5332,1017) {-\$base\_dir};
\node[lbl] (l72) at (5453,1018) {-\$current\_comp\\\#\$entities\\-\$comp\\\#\$install\_url\\\#\$install\_id\\\#\$tmp\_import\_dir};
\node[lbl] (l73) at (5740,1017) {\#\$file\_size};
\node[lbl] (l74) at (6135,1017) {\#\$tree\_id\\-\$gap\\\#\$root\_id};
\node[lbl] (l75) at (6390,1017) {\#\$creation\_date};

\node[lbl] (l76) at (1386,1404) {\#\$logger};
\node[lbl] (l77) at (1649,1404) {+PHP\_MEMORY};
\node[lbl] (l78) at (1903,1404) {\#\$logger};
\node[lbl] (l79) at (2400,1404) {\#\$saving\_log\\\#\$used\_modules\\\#\$used\_topics};
\node[lbl] (l80) at (2792,1404) {\#\$log};
\node[lbl] (l81) at (2973,1404) {\#\$usage\_log\_enabled};
\node[lbl] (l82) at (3853,1397) {\#\$cached\_modules\\\#\$map\_modules\_txt\\+\$loaded\_modules\\+\$text};
\node[lbl] (l83) at (5890,1406) {+\$lang\_name\\+\$lang\_user\\+\$lang\_path\\\#\$cust\_lang\_path\\+\$separator\\+\$comment\_separator\\+\$lang\_key\\+\$lang\_default};

\node[lbl] (l84) at (286,1753) {\#\$db};
\node[lbl] (l85) at (847,1753) {+TABLE\_OBJECT\_DATA\\+LONG\_DESC\_LENGTH\\+TITLE\_LENGTH\\+DESC\_LENGTH};
\node[lbl] (l86) at (1268,1753) {\#\$rbacreview};
\node[lbl] (l87) at (1747,1753) {\#\$eventHandler};
\node[lbl] (l88) at (2079,1753) {-\$tree\_impl};
\node[lbl] (l89) at (2679,1753) {\#\$register\\\#\$call\_by\_reference\\\#\$referenced\\\#\$offline\\-\$process\_auto\\\_reating\\\#\$add\_dots};
\node[lbl] (l90) at (2833,1753) {\#\$log};
\node[lbl] (l91) at (3476,1753) {\#\$global\_cache};
\node[lbl] (l92) at (4053,1753) {\#\$primary};
\node[lbl] (l93) at (4173,1753) {+\$objectList};
\node[lbl] (l94) at (4571,1753) {\#\$objDefinition};
\node[lbl] (l95) at (4738,1753) {\#\$resource\_cache};
\node[lbl] (l96) at (4930,1753) {-\$importer};
\node[lbl] (l97) at (5002,1753) {\#\$imp};
\node[lbl] (l98) at (5095,1753) {-\$lock\_handler};
\node[lbl] (l99) at (5198,1753) {\#\$mapping};
\node[lbl] (l100) at (5389,1753) {\#\$create\_date\\\#\$desc\\\#\$title\\\#\$long\_desc\\\#\$import\_id\\+\$untranslatedTitle\\\#\$type\\\#\$last\_update};
\node[lbl] (l101) at (5577,1753) {-\$collection\_repository};
\node[lbl] (l102) at (5707,1753) {-\$id\_generator};
\node[lbl] (l103) at (5910,1753) {-\$factory};
\node[lbl] (l104) at (6347,1753) {\#\$ref\_id\\\#\$max\_desc\\\#\$max\_title\\\#\$owner\\\#\$id};

\node[lbl] (l105) at (571,1992) {+PASSWD\_CRYPTED\\+PASSWD\_PLAIN};
\node[lbl] (l106) at (1692,1992) {\#\$personal\_image\_cache};
\node[lbl] (l107) at (2241,1992) {\#\$obj\_log\\\#\$log};
\node[lbl] (l108) at (2576,1992) {\#\$error};
\node[lbl] (l109) at (3124,1992) {\#\$profile\_incomplete\\\#\$passwd\_policy\_reset\\\#\$time\_limit\_unlimited\\-\$is\_self\_registered};
\node[lbl] (l110) at (3936,1992) {+\$ilias};
\node[lbl] (l111) at (4367,1992) {+\$prefs\\+\$user\_defined\_data\\\#\$interests\_help\\\_offered\\\#\$interests\_general\\\#\$oldPrefs\\\#\$interests\_help\\\_looking};
\node[lbl] (l112) at (4884,1992) {\#\$ext\_account\\+\$email\\+\$phone\_office\\+\$institution\\\#\$first\_login\\+\$longitude\\+\$hobby\\+\$zipcode\\\#\$passwd\_type\\+\$referral\_comment\\...};
\node[lbl] (l113) at (6508,1992) {\#\$time\_limit\_owner\\+\$active\\\#\$time\_limit\_from\\\#\$time\_limit\_until\\+\$login\_attempts\\+\$last\_password\_change\_ts};

\node[lbl] (l114) at (194,2216) {+OBJECT\_TYPE\\+MODE\_FILELIST\\+MODE\_OBJECT};
\node[lbl] (l115) at (1523,2216) {\#\$app\_event\_handler};
\node[lbl] (l116) at (1940,2216) {\#\$rbac\_review};
\node[lbl] (l117) at (2841,2216) {\#\$obj\_definition};
\node[lbl] (l118) at (3012,2216) {\#\$rating};
\node[lbl] (l119) at (3265,2216) {\#\$ilias};
\node[lbl] (l120) at (3345,2216) {\#\$global\_cache};
\node[lbl] (l121) at (4211,2216) {-\$revision\_repository\\-\$resource\_repository\\\#\$primary\_storage\_handler\\-\$stakeholder\_repository\\\#\$file\_name\_policy\\-\$information\_repository};
\node[lbl] (l122) at (4701,2216) {-\$storage\_handler\_factory};
\node[lbl] (l123) at (6107,2216) {\#\$filetype\\\#\$resource\_id\\\#\$filename\\+\$mode\\\#\$action};
\node[lbl] (l124) at (7147,2216) {\#\$filesize\\\#\$page\_count\\\#\$max\_version\\\#\$version};

\node[lbl] (l125) at (1484,2447) {\#\$log};
\node[lbl] (l126) at (1735,2447) {\#\$rbac\_admin};
\node[lbl] (l127) at (2171,2447) {\#\$tree};
\node[lbl] (l128) at (4459,2447) {-\$storage\_handler\_factory};
\node[lbl] (l129) at (3049,2642) {\#\$lng};
\node[lbl] (l130) at (4724,2642) {-\$stream\_access};
\node[lbl] (l131) at (4938,2641) {-\$lock\_handler};
\node[lbl] (l132) at (5954,2641) {\#\$collection\_builder};
\node[lbl] (l133) at (6263,2641) {\#\$file\_info};
\node[lbl] (l134) at (6652,2641) {\#\$stakeholder};
\node[lbl] (l135) at (2841,3324) {\#\$user};
\node[lbl] (l136) at (5679,3324) {\#\$resource\_builder};
\node[lbl] (l137) at (5827,3324) {\#\$preloader};
\node[lbl] (l138) at (5595,4140) {\#\$implementation};
\node[lbl] (l139) at (5748,4140) {\#\$manager};
\node[lbl] (l140) at (6023,4140) {\#\$upload};
\node[lbl] (l141) at (5243,4602) {\#\$current\_obj};
\end{tikzpicture}
\end{document}
